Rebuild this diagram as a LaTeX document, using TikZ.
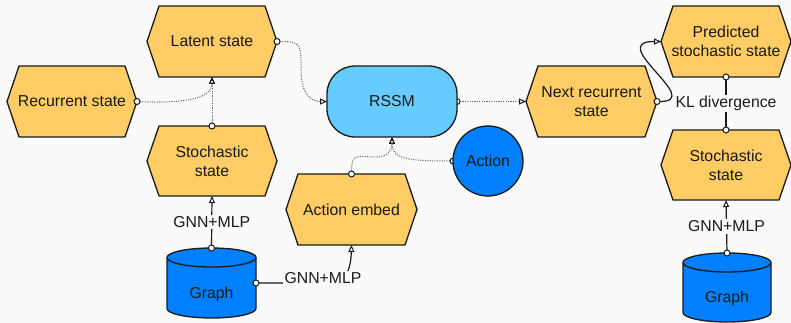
\documentclass[tikz,border=0pt]{standalone}
\usepackage{fontspec}
\setmainfont{Liberation Sans}
\usetikzlibrary{arrows.meta}
\definecolor{bgc}{HTML}{FAFAFA}
\definecolor{hexc}{HTML}{FFCC66}
\definecolor{lblue}{HTML}{66CCFF}
\definecolor{dblue}{HTML}{0080FF}
\definecolor{ink}{HTML}{1A1A1A}
\definecolor{dotc}{HTML}{666666}
\pgfdeclarelayer{back}\pgfdeclarelayer{shp}\pgfdeclarelayer{edge}
\pgfsetlayers{back,shp,edge,main}
\newcommand\hexof[1]{\path[hexshape] (#1.west) -- ([xshift=12pt]#1.north west) -- ([xshift=-12pt]#1.north east) -- (#1.east) -- ([xshift=-12pt]#1.south east) -- ([xshift=12pt]#1.south west) -- cycle;}
\newcommand\cylof[2]{%
 \path[cylshape] ([yshift=-9.5pt]#1.north west) -- ([yshift=9.5pt]#1.south west) arc[start angle=180,end angle=360,x radius=#2,y radius=9.5pt] -- ([yshift=-9.5pt]#1.north east) arc[start angle=0,end angle=180,x radius=#2,y radius=9.5pt] -- cycle;
 \draw[shapeline] ([yshift=-9.5pt]#1.north west) arc[start angle=180,end angle=360,x radius=#2,y radius=9.5pt];}
\begin{document}
\begin{tikzpicture}[x=1pt,y=1pt,
  every node/.style={font=\fontsize{15.8}{19}\selectfont, text=ink},
  hexn/.style={minimum width=130pt, minimum height=71pt, inner sep=0pt, outer sep=0pt, align=center},
  cyln/.style={minimum width=89pt, minimum height=70pt, inner sep=0pt, outer sep=0pt},
  shapeline/.style={draw=ink, line width=1.3pt, line join=round},
  hexshape/.style={shapeline, fill=hexc},
  cylshape/.style={shapeline, fill=dblue},
  lbl/.style={fill=bgc, inner sep=1.5pt},
  dotedge/.style={draw=dotc, line width=1pt, dash pattern=on 1.1pt off 1.3pt},
  soledge/.style={draw=ink, line width=1.2pt},
  ct/.style={arrows={Circle[color=ink,fill=white,length=7pt,width=7pt,line width=1pt]-Triangle[color=ink,open,length=7pt,width=6pt,line width=1pt]}, shorten <=-3.5pt},
  cc/.style={arrows={Circle[color=ink,fill=white,length=7pt,width=7pt,line width=1pt]-Circle[color=ink,fill=white,length=7pt,width=7pt,line width=1pt]}, shorten <=-3.5pt, shorten >=-3.5pt}
]
\useasboundingbox (0,0) rectangle (791,-323);
\begin{pgfonlayer}{back}
\fill[bgc] (0,0) rectangle (791,-323);
\end{pgfonlayer}

% nodes
\node[hexn] (rec) at (72,-101.5) {Recurrent state};
\node[hexn] (lat) at (212,-41.5) {Latent state};
\node[hexn, minimum height=70pt] (sto) at (212,-161) {Stochastic\\state};
\node[minimum width=130pt, minimum height=71pt, inner sep=0pt, outer sep=0pt, rounded corners=28pt, fill=lblue, shapeline] (rssm) at (392,-101.5) {RSSM};
\node[circle, minimum size=70pt, inner sep=0pt, outer sep=0pt, fill=dblue, shapeline] (act) at (488,-161) {Action};
\node[hexn, minimum width=131pt] (emb) at (351.5,-209.5) {Action embed};
\node[cyln] (gL) at (211.5,-283) {\raisebox{-15.5pt}[0pt][0pt]{Graph}};
\node[hexn, minimum width=131pt] (next) at (591.5,-101.5) {Next recurrent\\state};
\node[hexn] (pred) at (726,-41.5) {Predicted\\stochastic state};
\node[hexn, minimum height=70pt] (stoR) at (726,-165) {Stochastic\\state};
\node[cyln, minimum width=88pt, minimum height=69pt] (gR) at (727,-287.5) {\raisebox{-15.1pt}[0pt][0pt]{Graph}};

\begin{pgfonlayer}{shp}
\hexof{rec}\hexof{lat}\hexof{sto}\hexof{emb}\hexof{next}\hexof{pred}\hexof{stoR}
\cylof{gL}{44.5pt}
\cylof{gR}{44pt}
\end{pgfonlayer}

\begin{pgfonlayer}{edge}
% dotted connectors
\draw[dotedge, ct] (lat.east) .. controls +(25,0) and +(0,25) .. (301,-70) .. controls +(0,-25) and +(-15,0) .. (rssm.west);
\draw[dotedge, ct] (rec.east) .. controls +(45,-2) and +(0,-22) .. (lat.south);
\draw[dotedge, ct] (sto.north) -- (lat.south);
\draw[dotedge, ct] (emb.north) .. controls +(0,22) and +(-18,0) .. (376,-157) .. controls +(10,0) and +(0,-15) .. (rssm.south);
\draw[dotedge, ct] (act.west) .. controls +(-45,0) and +(0,-22) .. (rssm.south);
\draw[dotedge, ct] (rssm.east) -- (next.west);
% solid connectors
\draw[soledge, ct] (next.east) .. controls +(48,0) and +(-56,0) .. (pred.west);
\draw[soledge, cc] (pred.south) -- node[lbl] (kl) {KL divergence} (stoR.north);
\draw[soledge, ct] (gL.north) -- node[lbl] (gnnL) {GNN+MLP} (sto.south);
\draw[soledge, ct] (gR.north) -- node[lbl] (gnnR) {GNN+MLP} (stoR.south);
\draw[soledge, ct] (gL.east) -- (330,-283) .. controls (348,-283) and (351,-265) .. (emb.south)
  node[lbl] (gnnH) at (323,-278) {GNN+MLP};
\end{pgfonlayer}
\end{tikzpicture}
\end{document}
